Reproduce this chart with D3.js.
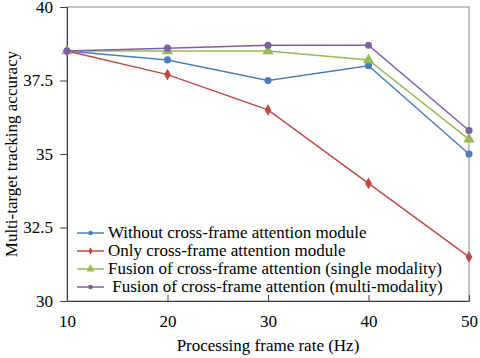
<!DOCTYPE html>
<html>
<head>
<meta charset="utf-8">
<script src="https://cdn.jsdelivr.net/npm/d3@7"></script>
<style>
  body { margin: 0; background: #fff; }
</style>
</head>
<body>
<svg id="chart" width="480" height="358"></svg>
<script>
// frame rates on the x axis
var frameRates = [10, 20, 30, 40, 50];
var yTicks = [30, 32.5, 35, 37.5, 40];

// one array per method
var withoutCross = [38.5, 38.2, 37.5, 38.0, 35.0];
var onlyCross = [38.5, 37.7, 36.5, 34.0, 31.5];
var fusionSingle = [38.5, 38.5, 38.5, 38.2, 35.5];
var fusionMulti = [38.5, 38.6, 38.7, 38.7, 35.8];

var seriesNames = [
    'Without cross-frame attention module',
    'Only cross-frame attention module',
    'Fusion of cross-frame attention (single modality)',
    '\u00a0Fusion of cross-frame attention (multi-modality)'
];
var seriesColors = ['#4a7ebb', '#be4b48', '#98b954', '#7d60a0'];
var seriesShapes = [d3.symbolCircle, d3.symbolDiamond, d3.symbolTriangle, d3.symbolCircle];
var seriesValues = [withoutCross, onlyCross, fusionSingle, fusionMulti];

var serif = "Liberation Serif, Tinos, Times New Roman, DejaVu Serif, serif";

var svg = d3.select('#chart');
var plot = {l: 67, r: 469, t: 7, b: 301};

var xScale = d3.scaleLinear().domain([10, 50]).range([plot.l, plot.r]);
var yScale = d3.scaleLinear().domain([30, 40]).range([plot.b, plot.t]);

// plot frame
svg.append('rect')
    .attr('x', plot.l).attr('y', plot.t)
    .attr('width', plot.r - plot.l).attr('height', plot.b - plot.t)
    .attr('fill', 'none').attr('stroke', '#868686').attr('stroke-width', 1);

// y axis
var yAxis = d3.axisLeft(yScale).tickValues(yTicks).tickSize(7).tickPadding(7)
    .tickFormat(function(d) { return d; });
var yG = svg.append('g').attr('transform', 'translate(' + plot.l + ',0)').call(yAxis)
    .attr('font-family', serif).attr('font-size', 17);
yG.select('.domain').attr('stroke', '#404040');
yG.selectAll('.tick line').attr('stroke', '#404040');
yG.selectAll('.tick text').attr('fill', '#000');

// x axis, ticks point inward
var xAxis = d3.axisBottom(xScale).tickValues(frameRates).tickSize(-6).tickPadding(14);
var xG = svg.append('g').attr('transform', 'translate(0,' + plot.b + ')').call(xAxis)
    .attr('font-family', serif).attr('font-size', 17);
xG.select('.domain').attr('stroke', '#404040');
xG.selectAll('.tick line').attr('stroke', '#404040');
xG.selectAll('.tick text').attr('fill', '#000');

// axis titles
svg.append('text')
    .attr('x', 268).attr('y', 351)
    .attr('text-anchor', 'middle')
    .attr('font-family', serif).attr('font-size', 17)
    .text('Processing frame rate (Hz)');
svg.append('text')
    .attr('transform', 'translate(17,' + (plot.t + plot.b) / 2 + ') rotate(-90)')
    .attr('text-anchor', 'middle')
    .attr('font-family', serif).attr('font-size', 17)
    .text('Multi-target tracking accuracy');

// lines and markers
var line = d3.line()
    .x(function(d, i) { return xScale(frameRates[i]); })
    .y(function(d) { return yScale(d); });

seriesValues.forEach(function(vals, s) {
    svg.append('path')
        .datum(vals)
        .attr('d', line)
        .attr('fill', 'none')
        .attr('stroke', seriesColors[s])
        .attr('stroke-width', 1.5);
    var size = seriesShapes[s] === d3.symbolTriangle ? 55 : 40;
    svg.selectAll('.m' + s)
        .data(vals)
        .enter().append('path')
        .attr('class', 'm' + s)
        .attr('transform', function(d, i) {
            return 'translate(' + xScale(frameRates[i]) + ',' + yScale(d) + ')';
        })
        .attr('d', d3.symbol().type(seriesShapes[s]).size(size))
        .attr('fill', seriesColors[s]);
});

// legend
var legendG = svg.append('g').attr('transform', 'translate(77,233)');
seriesNames.forEach(function(name, s) {
    var row = legendG.append('g').attr('transform', 'translate(0,' + s * 18 + ')');
    row.append('line')
        .attr('x1', 0).attr('x2', 27).attr('y1', 0).attr('y2', 0)
        .attr('stroke', seriesColors[s]).attr('stroke-width', 1.5);
    row.append('path')
        .attr('transform', 'translate(13.5,0)')
        .attr('d', d3.symbol().type(seriesShapes[s]).size(seriesShapes[s] === d3.symbolTriangle ? 30 : 16))
        .attr('fill', seriesColors[s]);
    row.append('text')
        .attr('x', 31).attr('y', 4.5)
        .attr('font-family', serif).attr('font-size', 17)
        .text(name);
});
</script>
</body>
</html>
